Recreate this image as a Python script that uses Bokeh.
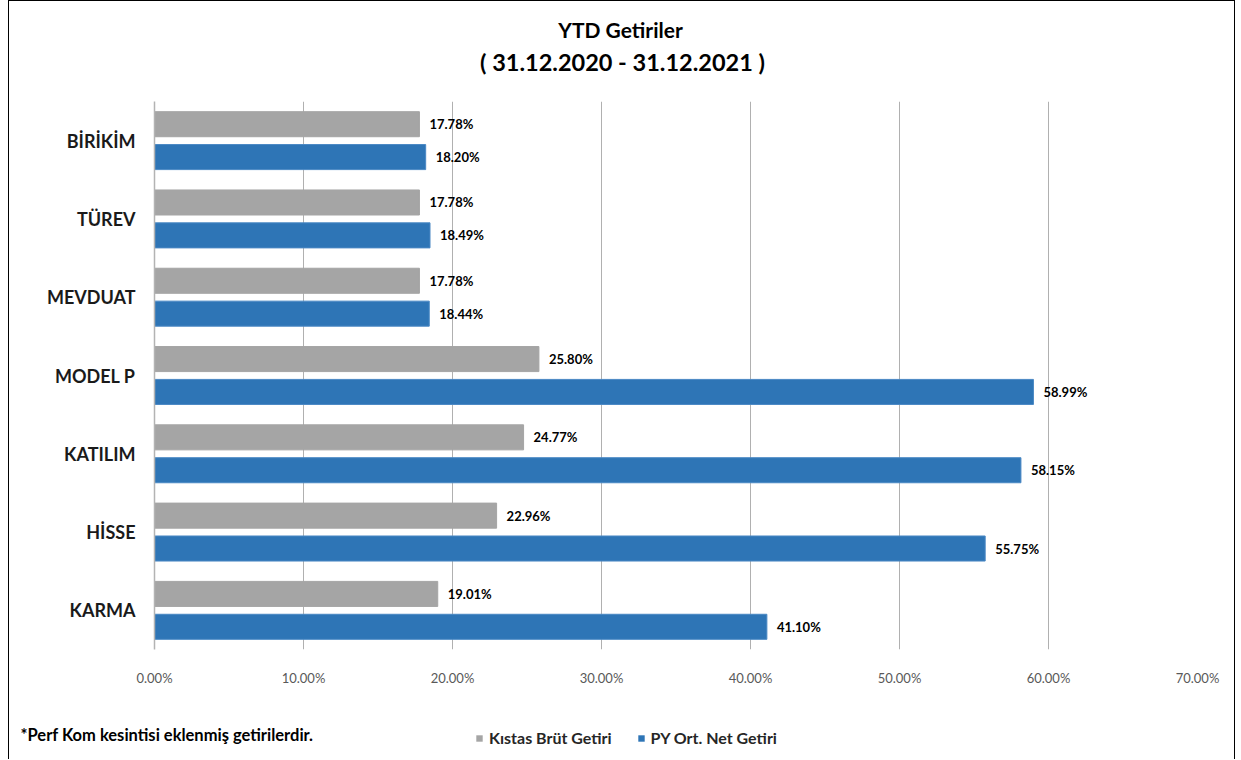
from bokeh.plotting import figure
from bokeh.layouts import column
from bokeh.models import (ColumnDataSource, FactorRange, Label, Legend, LegendItem,
                          PrintfTickFormatter, FixedTicker)
from bokeh.transform import dodge
from bokeh.core.properties import value
from bokeh.embed import file_html
from bokeh.resources import INLINE

categories = ["BİRİKİM", "TÜREV", "MEVDUAT", "MODEL P", "KATILIM", "HİSSE", "KARMA"]
kistas = [17.78, 17.78, 17.78, 25.80, 24.77, 22.96, 19.01]
py_net = [18.20, 18.49, 18.44, 58.99, 58.15, 55.75, 41.10]
x_ticks = [0, 10, 20, 30, 40, 50, 60, 70]
series_names = ["Kıstas Brüt Getiri", "PY Ort. Net Getiri"]
title_lines = ["YTD Getiriler", "( 31.12.2020 - 31.12.2021 )"]
footnote = "*Perf Kom kesintisi eklenmiş getirilerdir."

FONT = "Lato"
GRAY = "#A5A5A5"
BLUE = "#2E75B6"
W = 1225

src = ColumnDataSource(dict(
    cat=categories,
    kistas=kistas,
    py_net=py_net,
    kistas_lbl=[f"{v:.2f}%" for v in kistas],
    py_lbl=[f"{v:.2f}%" for v in py_net],
))

# ---------- title strip ----------
top = figure(width=W, height=100, x_range=(0, 1), y_range=(0, 1),
             x_axis_type=None, y_axis_type=None,
             output_backend="svg", toolbar_location=None, min_border=0)
top.frame_align = False
top.outline_line_color = None
top.grid.visible = False
top.add_layout(Label(x=611, y=72, x_units="screen", y_units="screen",
                     text=title_lines[0], text_align="center", text_baseline="middle",
                     text_font=FONT, text_font_style="bold", text_font_size="21px",
                     text_color="#000000"))
top.add_layout(Label(x=613, y=40, x_units="screen", y_units="screen",
                     text=title_lines[1], text_align="center", text_baseline="middle",
                     text_font=FONT, text_font_style="bold", text_font_size="23.5px",
                     text_color="#000000"))

# ---------- main chart ----------
p = figure(width=W, height=588, x_range=(0, 70),
           y_range=FactorRange(*reversed(categories)),
           output_backend="svg", toolbar_location=None,
           min_border_left=145, min_border_right=37,
           min_border_top=0, min_border_bottom=40)
p.frame_align = False

r1 = p.hbar(y=dodge("cat", 0.21, range=p.y_range), right="kistas", left=0, height=0.32,
            source=src, fill_color=GRAY, line_color=GRAY)
r2 = p.hbar(y=dodge("cat", -0.21, range=p.y_range), right="py_net", left=0, height=0.32,
            source=src, fill_color=BLUE, line_color="#4A88C4")

p.text(x="kistas", y=dodge("cat", 0.21, range=p.y_range), text="kistas_lbl", source=src,
       x_offset=10, text_baseline="middle", text_align="left",
       text_font=value(FONT), text_font_style="bold", text_font_size="13px", text_color="#000000")
p.text(x="py_net", y=dodge("cat", -0.21, range=p.y_range), text="py_lbl", source=src,
       x_offset=10, text_baseline="middle", text_align="left",
       text_font=value(FONT), text_font_style="bold", text_font_size="13px", text_color="#000000")

p.outline_line_color = None
p.ygrid.grid_line_color = None
p.xgrid.grid_line_color = "#B0B0B0"
p.xgrid.ticker = FixedTicker(ticks=x_ticks)

p.xaxis.ticker = FixedTicker(ticks=x_ticks)
p.xaxis.formatter = PrintfTickFormatter(format="%.2f%%")
p.xaxis.axis_line_color = None
p.xaxis.major_tick_line_color = None
p.xaxis.minor_tick_line_color = None
p.xaxis.major_label_text_font = FONT
p.xaxis.major_label_text_font_size = "13px"
p.xaxis.major_label_text_color = "#595959"
p.xaxis.major_label_standoff = 14

p.yaxis.axis_line_color = "#B3B3B3"
p.yaxis.axis_line_width = 1.5
p.yaxis.major_tick_line_color = None
p.yaxis.minor_tick_line_color = None
p.yaxis.major_label_text_font = FONT
p.yaxis.major_label_text_font_style = "bold"
p.yaxis.major_label_text_font_size = "18px"
p.yaxis.major_label_text_color = "#1a1a1a"
p.yaxis.major_label_standoff = 13

# ---------- footer: footnote + legend ----------
bot = figure(width=W, height=70, x_range=(-2, -1), y_range=(-2, -1),
             x_axis_type=None, y_axis_type=None,
             output_backend="svg", toolbar_location=None, min_border=0)
bot.frame_align = False
bot.outline_line_color = None
bot.grid.visible = False
# legend proxies: same series, lying entirely outside this strip's visible ranges
g1 = bot.hbar(y="kistas", right="kistas", left="kistas", height=0.5, source=src,
              fill_color=GRAY, line_color=None)
g2 = bot.hbar(y="py_net", right="py_net", left="py_net", height=0.5, source=src,
              fill_color=BLUE, line_color=None)
bot.add_layout(Label(x=11, y=24.5, x_units="screen", y_units="screen",
                     text=footnote, text_align="left", text_baseline="middle",
                     text_font=FONT, text_font_style="bold", text_font_size="16.5px",
                     text_color="#000000"))
legend = Legend(items=[LegendItem(label=series_names[0], renderers=[g1]),
                       LegendItem(label=series_names[1], renderers=[g2])],
                orientation="horizontal", location=(466, 12),
                glyph_width=8, glyph_height=8, label_standoff=6, spacing=25,
                label_text_font=FONT, label_text_font_style="bold",
                label_text_font_size="16px", label_text_color="#262626",
                background_fill_alpha=0, border_line_color=None, padding=0, margin=0)
bot.add_layout(legend, "center")

layout = column(top, p, bot, spacing=0)
layout.styles = {"margin-left": "8px", "border-left": "1.5px solid black",
                 "border-top": "1.5px solid black", "border-right": "1.5px solid black"}

open("out.html", "w").write(file_html(layout, INLINE))
